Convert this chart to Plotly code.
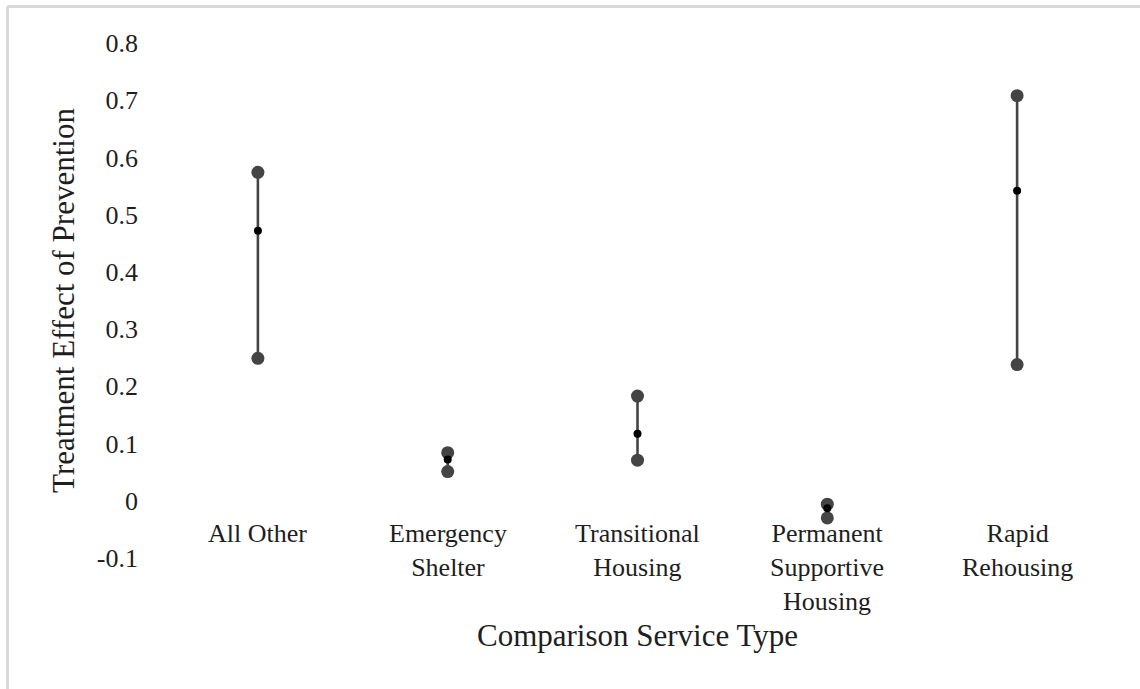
import plotly.graph_objects as go

# Comparison service types and the prevention treatment-effect estimates
categories = ["All Other", "Emergency Shelter", "Transitional Housing",
              "Permanent Supportive Housing", "Rapid Rehousing"]
category_labels = ["All Other", "Emergency<br>Shelter", "Transitional<br>Housing",
                   "Permanent<br>Supportive<br>Housing", "Rapid<br>Rehousing"]
estimate = [0.472, 0.072, 0.117, -0.013, 0.542]
upper = [0.574, 0.084, 0.183, -0.006, 0.708]
lower = [0.249, 0.051, 0.071, -0.030, 0.238]

y_ticks = [-0.1, 0, 0.1, 0.2, 0.3, 0.4, 0.5, 0.6, 0.7, 0.8]
y_tick_text = ["-0.1", "0", "0.1", "0.2", "0.3", "0.4", "0.5", "0.6", "0.7", "0.8"]

FONT = "'Liberation Serif', 'Times New Roman', serif"
TEXT = "#1e1e1e"
BAR = "#444444"

W, H = 1140, 689
L, R, T, B = 163, 28, 43, 131
plot_w = W - L - R
plot_h = H - T - B

# interval segments (one vertical line per category)
seg_x, seg_y = [], []
for c, lo, hi in zip(categories, lower, upper):
    seg_x += [c, c, None]
    seg_y += [lo, hi, None]

fig = go.Figure()
fig.add_trace(go.Scatter(x=seg_x, y=seg_y, mode="lines",
                         line=dict(color=BAR, width=2.6),
                         hoverinfo="skip", showlegend=False))
fig.add_trace(go.Scatter(x=categories + categories, y=upper + lower, mode="markers",
                         marker=dict(color=BAR, size=13),
                         showlegend=False))
fig.add_trace(go.Scatter(x=categories, y=estimate, mode="markers",
                         marker=dict(color="#000000", size=8),
                         showlegend=False))

annotations = []
for c, lab in zip(categories, category_labels):
    annotations.append(dict(x=c, y=0, xref="x", yref="y", text=lab,
                            showarrow=False, xanchor="center", yanchor="top",
                            yshift=-16, align="center",
                            font=dict(family=FONT, size=26, color=TEXT)))

annotations.append(dict(x=0.5, y=(558 - 635) / plot_h, xref="paper", yref="paper",
                        text="Comparison Service Type", showarrow=False,
                        xanchor="center", yanchor="middle",
                        font=dict(family=FONT, size=31, color=TEXT)))

# light frame around the chart (top and left edges)
frame_x = (7.5 - L) / plot_w
frame_top = (558 - 6.5) / plot_h
shapes = [
    dict(type="line", xref="paper", yref="paper",
         x0=frame_x, x1=(W + 5 - L) / plot_w, y0=frame_top, y1=frame_top,
         line=dict(color="#d9d9d9", width=3)),
    dict(type="line", xref="paper", yref="paper",
         x0=frame_x, x1=frame_x, y0=frame_top, y1=(558 - H - 5) / plot_h,
         line=dict(color="#d9d9d9", width=3)),
]

fig.update_layout(
    width=W, height=H,
    margin=dict(l=L, r=R, t=T, b=B),
    paper_bgcolor="white", plot_bgcolor="white",
    font=dict(family=FONT, size=26, color=TEXT),
    xaxis=dict(type="category", categoryorder="array", categoryarray=categories,
               range=[-0.5, 4.5], showticklabels=False, showgrid=False,
               zeroline=False, showline=False, ticks=""),
    yaxis=dict(range=[-0.1, 0.8], tickvals=y_ticks, ticktext=y_tick_text,
               showgrid=False, zeroline=False, showline=False, ticks="",
               ticklabelstandoff=24,
               tickfont=dict(family=FONT, size=26, color=TEXT),
               title=dict(text="Treatment Effect of Prevention", standoff=12,
                          font=dict(family=FONT, size=31, color=TEXT))),
    annotations=annotations,
    shapes=shapes,
)

fig.write_html("out.html")
